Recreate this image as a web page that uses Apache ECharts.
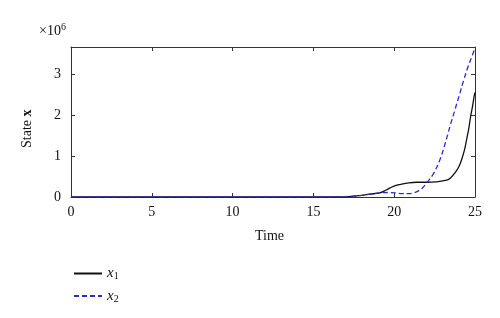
<!DOCTYPE html>
<html>
<head>
<meta charset="utf-8">
<script src="https://cdn.jsdelivr.net/npm/echarts@6/dist/echarts.min.js"></script>
<style>html,body{margin:0;padding:0;background:#fff}#c{width:500px;height:318px}</style>
</head>
<body>
<div id="c"></div>
<script>
// values in units of 1e6
const x1Times = [0, 5, 10, 15, 16, 17, 17.5, 18, 18.5, 19.1, 19.5, 19.95, 20.4, 20.8, 21.4, 22, 22.6, 23.25, 23.5, 23.76, 24.0, 24.17, 24.35, 24.48, 24.62, 24.73, 24.85, 24.95, 25];
const x1Values = [0, 0, 0, 0, 0, 0.005, 0.02, 0.04, 0.07, 0.1, 0.17, 0.26, 0.31, 0.34, 0.36, 0.36, 0.37, 0.41, 0.47, 0.59, 0.74, 0.91, 1.15, 1.4, 1.68, 1.97, 2.22, 2.46, 2.55];
const x2Times = [0, 5, 10, 15, 16, 17, 17.5, 18, 18.5, 19.1, 19.6, 20.1, 20.5, 20.9, 21.2, 21.5, 21.75, 22, 22.4, 22.83, 23.15, 23.45, 23.76, 24.07, 24.3, 24.58, 24.8, 25];
const x2Values = [0, 0, 0, 0, 0, 0.01, 0.02, 0.04, 0.07, 0.1, 0.11, 0.1, 0.08, 0.08, 0.1, 0.15, 0.22, 0.34, 0.55, 0.91, 1.3, 1.72, 2.13, 2.54, 2.85, 3.19, 3.42, 3.63];
const xTicks = [0, 5, 10, 15, 20, 25];
const yTicks = [0, 1, 2, 3];
const seriesNames = ['x1', 'x2'];

const pair = (xs, ys) => xs.map((t, i) => [t, ys[i]]);
const font = '"Liberation Serif", "DejaVu Serif", serif';
const axisCol = '#333';
const tick = {show: true, inside: true, length: 4, lineStyle: {color: axisCol, width: 1}};
const line = {show: true, onZero: false, lineStyle: {color: axisCol, width: 1}};

const chart = echarts.init(document.getElementById('c'), null, {renderer: 'canvas'});
chart.setOption({
  animation: false,
  grid: {left: 71, top: 47, right: 25, bottom: 121, containLabel: false},
  xAxis: [{
    type: 'value', position: 'bottom', min: 0, max: 25, interval: 5,
    axisLine: line, axisTick: tick,
    axisLabel: {color: '#111', fontFamily: font, fontSize: 14, margin: 8,
      formatter: v => (xTicks.indexOf(v) >= 0 ? String(v) : '')},
    splitLine: {show: false}
  }, {
    type: 'value', position: 'top', min: 0, max: 25, interval: 5,
    axisLine: line, axisTick: tick,
    axisLabel: {show: false}, splitLine: {show: false}
  }],
  yAxis: [{
    type: 'value', position: 'left', min: 0, max: 3.66, interval: 1,
    axisLine: line, axisTick: tick,
    axisLabel: {color: '#111', fontFamily: font, fontSize: 14, margin: 10,
      formatter: v => (yTicks.indexOf(v) >= 0 ? String(v) : '')},
    splitLine: {show: false}
  }, {
    type: 'value', position: 'right', min: 0, max: 3.66, interval: 1,
    axisLine: line, axisTick: tick,
    axisLabel: {show: false}, splitLine: {show: false}
  }],
  legend: {
    orient: 'vertical', left: 68, top: 261, itemWidth: 28, itemHeight: 10, itemGap: 7,
    data: seriesNames,
    itemStyle: {opacity: 0, borderWidth: 0},
    formatter: n => '{v|x}{s|' + n.slice(1) + '}',
    textStyle: {
      fontFamily: font, fontSize: 14, color: '#111',
      rich: {
        v: {fontFamily: font, fontStyle: 'italic', fontSize: 15, color: '#111'},
        s: {fontFamily: font, fontSize: 10, color: '#111', verticalAlign: 'bottom', padding: [6, 0, 0, 0]}
      }
    }
  },
  series: [{
    name: 'x1', type: 'line', symbol: 'none', smooth: 0.4,
    data: pair(x1Times, x1Values),
    lineStyle: {color: '#111', width: 1.3, type: 'solid'},
    itemStyle: {color: '#111'}
  }, {
    name: 'x2', type: 'line', symbol: 'none', smooth: 0.4,
    data: pair(x2Times, x2Values),
    lineStyle: {color: '#2a2ad0', width: 1.3, type: [5, 3]},
    itemStyle: {color: '#2a2ad0'}
  }],
  graphic: [{
    type: 'text', left: 39, top: 22,
    style: {text: '×10{s|6}', fontFamily: font, fontSize: 14, fill: '#111',
      rich: {s: {fontFamily: font, fontSize: 10, fill: '#111', verticalAlign: 'top', padding: [0, 0, 8, 0]}}}
  }, {
    type: 'text', x: 20, y: 148, rotation: Math.PI / 2,
    style: {text: 'State {b|x}', fontFamily: font, fontSize: 14, fill: '#111',
      rich: {b: {fontFamily: font, fontSize: 14, fontWeight: 'bold', fill: '#111'}}}
  }, {
    type: 'text', left: 255, top: 229,
    style: {text: 'Time', fontFamily: font, fontSize: 14, fill: '#111'}
  }]
});
</script>
</body>
</html>
